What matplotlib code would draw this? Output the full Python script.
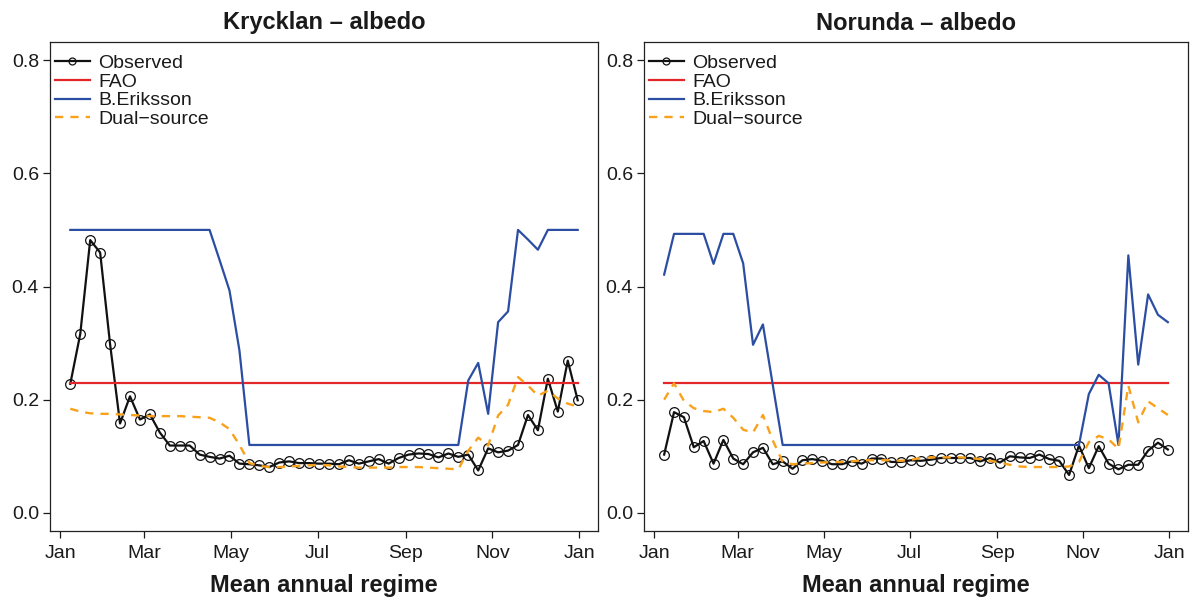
import numpy as np
import pandas as pd
import matplotlib
matplotlib.use("Agg")
import matplotlib.pyplot as plt
import matplotlib.dates as mdates
from matplotlib.lines import Line2D

plt.rcParams['font.family'] = ['Liberation Sans', 'DejaVu Sans']

# ---------------- data ----------------
weeks = pd.date_range("2001-01-08", periods=52, freq="7D")
month_ticks = pd.to_datetime(["2001-01-01", "2001-03-01", "2001-05-01", "2001-07-01",
                              "2001-09-01", "2001-11-01", "2002-01-01"])
month_labels = ["Jan", "Mar", "May", "Jul", "Sep", "Nov", "Jan"]
y_ticks = [0.0, 0.2, 0.4, 0.6, 0.8]
y_labels = ["0.0", "0.2", "0.4", "0.6", "0.8"]

titles = ["Krycklan \u2013 albedo", "Norunda \u2013 albedo"]
series_names = ["Observed", "FAO", "B.Eriksson", "Dual\u2212source"]

krycklan_observed = [0.228, 0.316, 0.482, 0.460, 0.298, 0.158, 0.206, 0.165, 0.174, 0.142,
                     0.119, 0.119, 0.119, 0.103, 0.099, 0.096, 0.101, 0.087, 0.086, 0.084,
                     0.081, 0.089, 0.091, 0.088, 0.088, 0.087, 0.087, 0.086, 0.093, 0.087,
                     0.091, 0.095, 0.087, 0.097, 0.103, 0.105, 0.104, 0.098, 0.105, 0.099,
                     0.103, 0.075, 0.114, 0.107, 0.110, 0.120, 0.173, 0.146, 0.237, 0.179,
                     0.269, 0.199]
krycklan_fao = [0.23] * 52
krycklan_eriksson = [0.5, 0.5, 0.5, 0.5, 0.5, 0.5, 0.5, 0.5, 0.5, 0.5,
                     0.5, 0.5, 0.5, 0.5, 0.5, 0.447, 0.393, 0.287, 0.12, 0.12,
                     0.12, 0.12, 0.12, 0.12, 0.12, 0.12, 0.12, 0.12, 0.12, 0.12,
                     0.12, 0.12, 0.12, 0.12, 0.12, 0.12, 0.12, 0.12, 0.12, 0.12,
                     0.234, 0.265, 0.175, 0.337, 0.356, 0.5, 0.483, 0.465, 0.5, 0.5,
                     0.5, 0.5]
krycklan_dual = [0.184, 0.179, 0.176, 0.175, 0.175, 0.174, 0.173, 0.172, 0.171, 0.171,
                 0.171, 0.171, 0.170, 0.169, 0.168, 0.160, 0.148, 0.120, 0.088, 0.083,
                 0.081, 0.081, 0.082, 0.083, 0.084, 0.085, 0.084, 0.082, 0.081, 0.080,
                 0.080, 0.080, 0.080, 0.081, 0.081, 0.081, 0.080, 0.079, 0.078, 0.077,
                 0.110, 0.133, 0.119, 0.172, 0.191, 0.240, 0.225, 0.207, 0.216, 0.202,
                 0.193, 0.188]

norunda_observed = [0.103, 0.178, 0.169, 0.116, 0.127, 0.087, 0.129, 0.096, 0.086, 0.107,
                    0.115, 0.086, 0.091, 0.078, 0.093, 0.095, 0.092, 0.086, 0.086, 0.091,
                    0.087, 0.096, 0.096, 0.090, 0.090, 0.093, 0.092, 0.094, 0.097, 0.097,
                    0.097, 0.097, 0.091, 0.097, 0.089, 0.100, 0.098, 0.097, 0.103, 0.095,
                    0.092, 0.067, 0.119, 0.079, 0.118, 0.087, 0.077, 0.085, 0.085, 0.110,
                    0.124, 0.112]
norunda_fao = [0.23] * 52
norunda_eriksson = [0.421, 0.493, 0.493, 0.493, 0.493, 0.440, 0.493, 0.493, 0.441, 0.297,
                    0.333, 0.226, 0.12, 0.12, 0.12, 0.12, 0.12, 0.12, 0.12, 0.12,
                    0.12, 0.12, 0.12, 0.12, 0.12, 0.12, 0.12, 0.12, 0.12, 0.12,
                    0.12, 0.12, 0.12, 0.12, 0.12, 0.12, 0.12, 0.12, 0.12, 0.12,
                    0.12, 0.12, 0.12, 0.210, 0.244, 0.229, 0.120, 0.455, 0.262, 0.386,
                    0.350, 0.337]
norunda_dual = [0.200, 0.229, 0.198, 0.185, 0.180, 0.178, 0.184, 0.168, 0.147, 0.142,
                0.173, 0.128, 0.090, 0.086, 0.087, 0.088, 0.089, 0.090, 0.090, 0.091,
                0.093, 0.093, 0.093, 0.093, 0.092, 0.094, 0.097, 0.098, 0.098, 0.098,
                0.098, 0.097, 0.095, 0.092, 0.089, 0.085, 0.082, 0.081, 0.081, 0.081,
                0.081, 0.082, 0.090, 0.125, 0.136, 0.130, 0.113, 0.225, 0.160, 0.197,
                0.185, 0.173]

panels = [
    (krycklan_observed, krycklan_fao, krycklan_eriksson, krycklan_dual),
    (norunda_observed, norunda_fao, norunda_eriksson, norunda_dual),
]

# ---------------- style ----------------
C_OBS = "#111111"
C_FAO = "#E3262A"
C_ERI = "#2B4EA2"
C_DUAL = "#F9A11B"
TXT = "#1a1a1a"

fig = plt.figure(figsize=(11.94, 5.97), dpi=100)
W, H = 1194, 597
boxes = [(50, 598), (644, 1188)]
top_px, bot_px = 42, 531

xnum = mdates.date2num(weeks)
span = xnum[-1] - xnum[0]
xlim = (xnum[0] - 0.04 * span, xnum[-1] + 0.04 * span)

for k, (obs, fao, eri, dual) in enumerate(panels):
    l, r = boxes[k]
    ax = fig.add_axes([l / W, 1 - bot_px / H, (r - l) / W, (bot_px - top_px) / H])
    ax.plot(weeks, obs, color=C_OBS, lw=1.6, marker="o", ms=7.0, mfc="none",
            mec=C_OBS, mew=0.9, zorder=3)
    ax.plot(weeks, fao, color=C_FAO, lw=1.6, zorder=4)
    ax.plot(weeks, eri, color=C_ERI, lw=1.6, zorder=4)
    ax.plot(weeks, dual, color=C_DUAL, lw=1.7, dashes=(3.5, 3.0), zorder=5)

    ax.set_xlim(xlim)
    ax.set_ylim(-0.032, 0.832)
    ax.set_xticks(mdates.date2num(month_ticks))
    ax.set_xticklabels(month_labels)
    ax.set_yticks(y_ticks)
    ax.set_yticklabels(y_labels)
    ax.tick_params(axis="both", direction="out", length=5, width=0.9, colors=TXT,
                   labelsize=14)
    ax.tick_params(axis="x", pad=5)
    ax.tick_params(axis="y", pad=3)
    for s in ax.spines.values():
        s.set_linewidth(0.9)
        s.set_color("#222222")

    ax.set_title(titles[k], fontsize=17, fontweight="bold", color=TXT, pad=9)
    ax.set_xlabel("Mean annual regime", fontsize=17, fontweight="bold", color=TXT,
                  labelpad=9)

    handles = [
        Line2D([], [], color=C_OBS, lw=1.6, marker="o", ms=5, mfc="none", mew=0.9),
        Line2D([], [], color=C_FAO, lw=1.6),
        Line2D([], [], color=C_ERI, lw=1.6),
        Line2D([], [], color=C_DUAL, lw=1.7, dashes=(3.5, 3.0)),
    ]
    leg = ax.legend(handles, series_names, loc="upper left", bbox_to_anchor=(0.0, 0.985),
                    frameon=False, fontsize=14, handlelength=1.8, handletextpad=0.42,
                    labelspacing=0.06, borderaxespad=0.05, borderpad=0.2)
    for t in leg.get_texts():
        t.set_color(TXT)

fig.savefig("out.png", dpi=100)
